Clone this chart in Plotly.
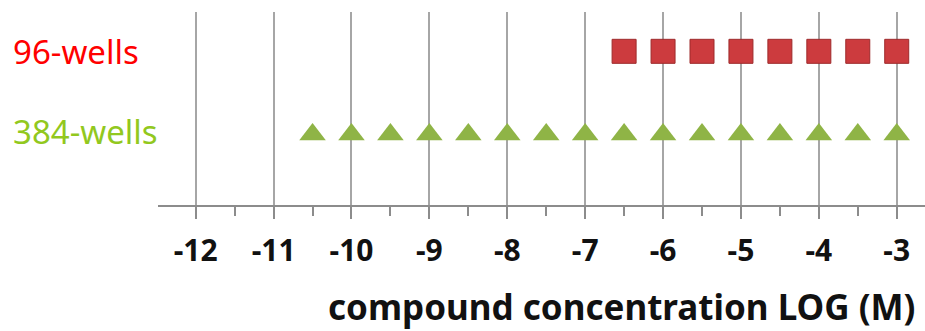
import plotly.graph_objects as go

# data
wells96_x = [-6.5, -6, -5.5, -5, -4.5, -4, -3.5, -3]
wells384_x = [-10.5, -10, -9.5, -9, -8.5, -8, -7.5, -7, -6.5, -6, -5.5, -5, -4.5, -4, -3.5, -3]
row_labels = ["96-wells", "384-wells"]
row_y = [1, 0]
tick_vals = [-12, -11, -10, -9, -8, -7, -6, -5, -4, -3]
tick_text = ["-12", "-11", "-10", "-9", "-8", "-7", "-6", "-5", "-4", "-3"]
x_title = "compound concentration LOG (M)"

fig = go.Figure()
fig.add_trace(go.Scatter(
    x=wells96_x, y=[row_y[0]] * len(wells96_x), mode="markers",
    marker=dict(symbol="square", size=24, color="#cc3b3e",
                line=dict(color="#9e2a2b", width=1)),
    hoverinfo="skip", showlegend=False))
fig.add_trace(go.Scatter(
    x=wells384_x, y=[row_y[1]] * len(wells384_x), mode="markers",
    marker=dict(symbol="triangle-up", size=23, color="#8fb446",
                line=dict(width=0)),
    hoverinfo="skip", showlegend=False))

label_colors = ["#ff0000", "#92c81e"]
label_y = [1, 0.04]
for lab, yy, col in zip(row_labels, label_y, label_colors):
    fig.add_annotation(text=lab, xref="paper", yref="y", x=(11 - 158) / 767, y=yy,
                       xanchor="left", yanchor="middle", showarrow=False,
                       font=dict(family="Noto Sans", size=33, color=col))

fig.add_annotation(text="<b>" + x_title + "</b>", xref="paper", yref="paper",
                   x=(917 - 158) / 767, y=-0.528, xanchor="right", yanchor="middle",
                   showarrow=False,
                   font=dict(family="Noto Sans", size=35, color="#111111"))

fig.update_xaxes(
    range=[-12.484, -2.637], tickvals=tick_vals, ticktext=tick_text,
    showgrid=True, gridcolor="#a6a6a6", gridwidth=2,
    showline=True, linecolor="#8c8c8c", linewidth=2,
    ticks="outside", ticklen=12, tickwidth=2, tickcolor="#8c8c8c",
    ticklabelstandoff=6,
    tickfont=dict(family="Noto Sans", size=30, color="#111111", weight="bold"),
    minor=dict(dtick=0.5, tick0=-12, ticks="outside", ticklen=9, tickwidth=2,
               tickcolor="#8c8c8c", showgrid=False),
    zeroline=False, fixedrange=True)
fig.update_yaxes(range=[-0.845, 1.472], visible=False, showgrid=False,
                 zeroline=False, fixedrange=True)

fig.update_layout(width=925, height=331, margin=dict(l=158, r=0, t=12, b=126),
                  paper_bgcolor="white", plot_bgcolor="white")

fig.write_html("out.html", config={"displayModeBar": False},
               post_script="document.body.style.margin='0';document.body.style.overflow='hidden';")
